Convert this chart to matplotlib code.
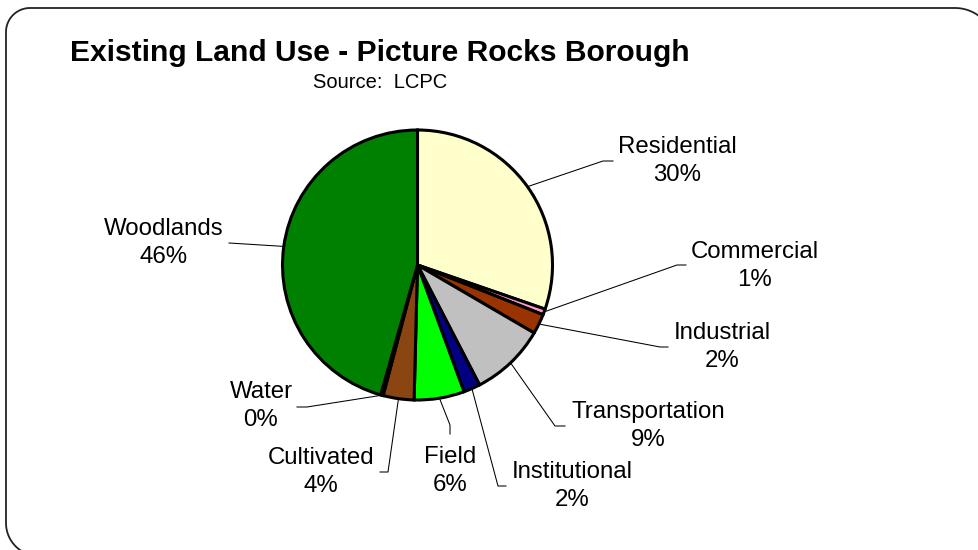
import numpy as np
import matplotlib
matplotlib.use("Agg")
import matplotlib.pyplot as plt

plt.rcParams['font.family'] = ['Liberation Sans', 'DejaVu Sans']

# land use shares (percent), clockwise from 12 o'clock
categories = ["Residential", "Commercial", "Industrial", "Transportation",
              "Institutional", "Field", "Cultivated", "Water", "Woodlands"]
shares = [30.3, 0.7, 2.4, 9.0, 2.0, 6.0, 3.7, 0.3, 45.6]
colors = ["#FFFFCC", "#FF99CC", "#993300", "#C0C0C0",
          "#000080", "#00FF00", "#8B4513", "#3366FF", "#008000"]

# label centre and leader route (canvas pixels, y down)
label_pos = [(677, 161), (755, 266), (722, 347), (648, 426),
             (572, 486), (450, 471), (321, 472), (261, 406), (164, 243)]
leader_route = [[(603, 161), (613, 161)],
                [(677, 265), (686, 265)],
                [(660, 347), (668, 347)],
                [(555, 426), (565, 426)],
                [(498, 486), (506, 486)],
                [(450, 425), (450, 434)],
                [(388, 472), (380, 472)],
                [(307, 407), (297, 407)],
                [(229, 243)]]

W, H = 979, 550
cx, cy, r = 417.5, 265, 135

fig = plt.figure(figsize=(W / 100, H / 100), dpi=100)
ax = fig.add_axes([0, 0, 1, 1])

# y axis points down so counterclock=True runs clockwise on screen
wedges, _ = ax.pie(shares, colors=colors, startangle=-90, counterclock=True,
                   center=(cx, cy), radius=r, frame=True,
                   wedgeprops=dict(edgecolor="black", linewidth=2.2))
ax.set_xlim(0, W)
ax.set_ylim(H, 0)
ax.set_aspect("equal", adjustable="datalim")
ax.axis("off")

for w, name, val, (tx, ty), route in zip(wedges, categories, shares,
                                         label_pos, leader_route):
    mid = np.deg2rad((w.theta1 + w.theta2) / 2)
    px, py = cx + r * np.cos(mid), cy + r * np.sin(mid)
    xs = [px] + [p[0] for p in route]
    ys = [py] + [p[1] for p in route]
    ax.plot(xs, ys, color="black", lw=0.75, zorder=3)
    ax.text(tx, ty, f"{name}\n{val:.0f}%", ha="center", va="center",
            fontsize=17.3, linespacing=1.33)

ax.text(70, 53, "Existing Land Use - Picture Rocks Borough", ha="left",
        va="center", fontsize=21.6, fontweight="bold")
ax.text(380, 83, "Source:  LCPC", ha="center", va="center", fontsize=14.5)

# rounded chart-area border: top-right corner, top edge, top-left corner,
# left edge and bottom-left corner (the rest lies off the canvas)
x0, y0, x1, y1 = 6, 8, 995, 556
arcs = [((x1 - 40, y0 + 40), 40, 0.0, -np.pi / 2),
        ((x0 + 24, y0 + 24), 24, -np.pi / 2, -np.pi),
        ((x0 + 33, y1 - 33), 33, np.pi, np.pi / 2)]
bx, by = [], []
for (ccx, ccy), rr, a_start, a_end in arcs:
    ang = np.linspace(a_start, a_end, 30)
    bx.extend(ccx + rr * np.cos(ang))
    by.extend(ccy + rr * np.sin(ang))
ax.plot(bx, by, color="#222222", lw=1.3, solid_joinstyle="round")

fig.savefig("out.png", dpi=100)
